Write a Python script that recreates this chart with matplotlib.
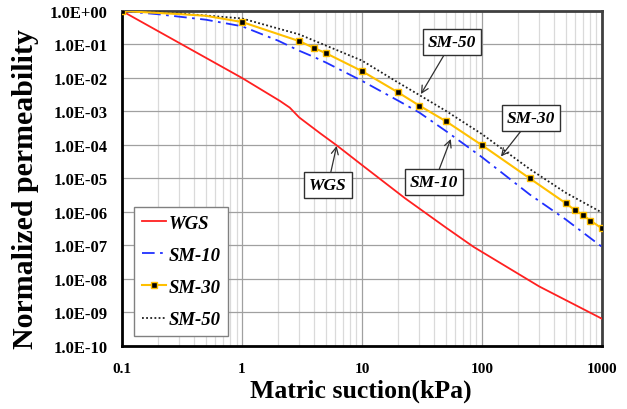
import matplotlib
matplotlib.use("Agg")
import matplotlib.pyplot as plt
from matplotlib.ticker import LogLocator, FuncFormatter, NullFormatter

plt.rcParams['font.family'] = ['Liberation Serif', 'DejaVu Serif']
plt.rcParams['mathtext.default'] = 'regular'

# ---- data ----
wgs_x = [0.1, 1, 2.07, 2.5, 3, 4.5, 6.2, 10, 23, 50, 85, 300, 1000]
wgs_y = [1.0, 1.0e-2, 2.06e-3, 1.3e-3, 6.6e-4, 2.2e-4, 9.5e-5, 2.5e-5, 2.5e-6, 3.4e-7, 9.0e-8,
         5.9e-9, 6.4e-10]

sm10_x = [0.1, 0.2, 0.5, 1, 2, 3, 4, 5, 10, 20, 30, 50, 100, 250, 500, 1000]
sm10_y = [1.0, 0.8, 0.55, 0.35, 0.13, 0.065, 0.042, 0.029, 8.2e-3, 2.1e-3, 9.3e-4, 2.6e-4,
          4.3e-5, 3.3e-6, 5.9e-7, 9.0e-8]

sm30_x = [0.1, 0.3, 0.5, 1, 3, 4, 5, 10, 20, 30, 50, 100, 250, 500, 600, 700, 800, 1000]
sm30_y = [1.0, 0.81, 0.72, 0.47, 0.126, 0.078, 0.055, 0.016, 3.7e-3, 1.5e-3, 5.1e-4,
          9.8e-5, 1.0e-5, 1.8e-6, 1.1e-6, 7.9e-7, 5.5e-7, 3.2e-7]
sm30_marked = [0, 3, 4, 5, 6, 7, 8, 9, 10, 11, 12, 13, 14, 15, 16, 17]

sm50_x = [0.1, 0.3, 1, 3, 4, 10, 20, 30, 50, 100, 250, 500, 1000]
sm50_y = [1.0, 0.85, 0.6, 0.2, 0.13, 0.033, 7.3e-3, 3.1e-3, 1.04e-3, 2.1e-4, 1.9e-5,
          3.7e-6, 9.5e-7]

series_names = ['WGS', 'SM-10', 'SM-30', 'SM-50']

# annotation labels: (text, arrow target x, y, box centre x, y)
notes = [
    ('SM-50', 31, 3.3e-3, 56, 0.118),
    ('SM-30', 144, 4.5e-5, 257, 6.3e-4),
    ('SM-10', 55, 1.5e-4, 40, 7.6e-6),
    ('WGS', 6.15, 9.3e-5, 5.2, 6.2e-6),
]

xticks = [0.1, 1, 10, 100, 1000]
xtick_labels = ['0.1', '1', '10', '100', '1000']

fig = plt.figure(figsize=(6.27, 4.10), dpi=100)
ax = fig.add_axes([0.1946, 0.1544, 0.7654, 0.8163])

ax.plot(wgs_x, wgs_y, color='#FF2020', lw=1.3, label=series_names[0], zorder=3)
ax.plot(sm10_x, sm10_y, color='#2030FF', lw=1.3, ls=(0, (7, 3, 1.5, 3)), label=series_names[1], zorder=3)
ax.plot(sm30_x, sm30_y, color='#FFC000', lw=1.5, marker='s', markersize=5,
        markerfacecolor='black', markeredgecolor='#FFC000', markeredgewidth=1.0,
        markevery=sm30_marked, label=series_names[2], zorder=4)
ax.plot(sm50_x, sm50_y, color='#202020', lw=1.3, ls=(0, (1, 1.3)), label=series_names[3], zorder=3)

ax.set_xscale('log')
ax.set_yscale('log')
ax.set_xlim(0.1, 1000)
ax.set_ylim(1e-10, 1)

ax.xaxis.set_minor_locator(LogLocator(base=10, subs=range(2, 10), numticks=100))
ax.xaxis.set_minor_formatter(NullFormatter())
ax.set_xticks(xticks)
ax.set_xticklabels(xtick_labels)
ax.yaxis.set_major_locator(LogLocator(base=10, numticks=20))
ax.yaxis.set_minor_locator(LogLocator(base=10, subs=[], numticks=20))
ax.yaxis.set_major_formatter(FuncFormatter(lambda v, p: f"{v:.1E}"))

ax.grid(True, which='major', color='#A0A0A0', lw=0.9, zorder=0)
ax.grid(True, which='minor', axis='x', color='#DADADA', lw=0.9, zorder=0)
ax.set_axisbelow(True)

ax.tick_params(axis='both', which='both', length=0)
ax.tick_params(axis='y', pad=10.5)
ax.tick_params(axis='x', pad=12)
for lab in ax.get_xticklabels():
    lab.set_fontweight('bold')
    lab.set_fontsize(11)
for lab in ax.get_yticklabels():
    lab.set_fontweight('bold')
    lab.set_fontsize(12)

for side in ['left', 'bottom']:
    ax.spines[side].set_color('black')
    ax.spines[side].set_linewidth(2)
for side in ['top', 'right']:
    ax.spines[side].set_color('#404040')
    ax.spines[side].set_linewidth(2)

fig.text(361 / 627, 1 - 391 / 410, 'Matric suction(kPa)', fontsize=18.5, fontweight='bold',
         ha='center', va='center')
fig.text(26 / 627, 1 - 189 / 410, 'Normalized permeability', fontsize=21.5, fontweight='bold',
         ha='center', va='center', rotation=90)

for text, tx, ty, bx, by in notes:
    ax.annotate(text, xy=(tx, ty), xytext=(bx, by), textcoords='data',
                ha='center', va='center', fontsize=12.5, fontweight='bold', fontstyle='italic',
                bbox=dict(boxstyle='square,pad=0.28', fc='white', ec='#303030', lw=1.0),
                arrowprops=dict(arrowstyle='->', color='#303030', lw=0.9,
                                shrinkA=0, shrinkB=0),
                zorder=6)

leg = ax.legend(loc='lower left', bbox_to_anchor=(0.025, 0.03), frameon=True, fancybox=False,
                edgecolor='#808080', framealpha=1, handlelength=1.3, handletextpad=0.15,
                labelspacing=0.8, borderpad=0.4, borderaxespad=0,
                prop={'family': 'Liberation Serif', 'weight': 'bold', 'style': 'italic', 'size': 13.5})
leg.get_frame().set_linewidth(1.0)

fig.savefig('out.png', dpi=100)
